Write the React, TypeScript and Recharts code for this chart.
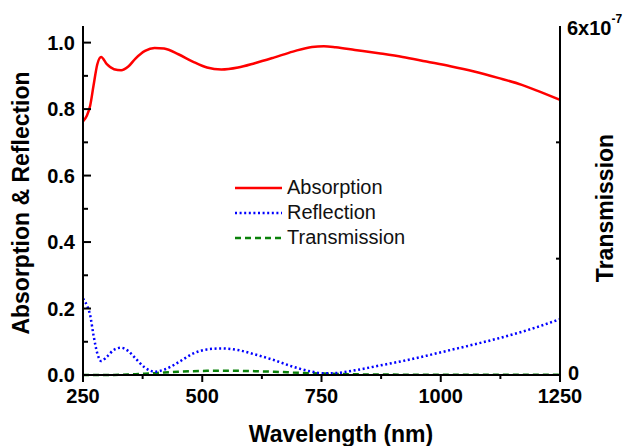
import { LineChart, Line, XAxis, YAxis, Legend, Label } from 'recharts'

const WAVELENGTH = [250, 258, 265, 272, 280, 288, 300, 315, 330, 345, 360, 380, 400, 420, 450, 480, 510, 540, 575, 610, 650, 690, 730, 755, 780, 820, 870, 920, 970, 1020, 1070, 1120, 1170, 1210, 1250]
const ABSORPTION = [0.763, 0.78, 0.81, 0.87, 0.935, 0.957, 0.935, 0.92, 0.917, 0.928, 0.952, 0.975, 0.984, 0.982, 0.965, 0.943, 0.925, 0.919, 0.925, 0.938, 0.955, 0.973, 0.987, 0.989, 0.986, 0.978, 0.968, 0.957, 0.943, 0.929, 0.913, 0.894, 0.873, 0.851, 0.828]
const REFLECTION = [0.23, 0.21, 0.18, 0.12, 0.065, 0.042, 0.055, 0.076, 0.082, 0.072, 0.05, 0.022, 0.01, 0.016, 0.038, 0.064, 0.077, 0.08, 0.075, 0.062, 0.045, 0.025, 0.01, 0.005, 0.006, 0.014, 0.028, 0.042, 0.058, 0.075, 0.092, 0.11, 0.13, 0.148, 0.168]
const TRANSMISSION = [0, 0, 0, 0, 0, 0, 0.1e-9, 0.2e-9, 0.4e-9, 0.8e-9, 1.3e-9, 2.2e-9, 3.2e-9, 4.2e-9, 5.5e-9, 6.6e-9, 7.2e-9, 7.4e-9, 7.2e-9, 6.6e-9, 5.6e-9, 4.3e-9, 3.0e-9, 2.4e-9, 1.8e-9, 1.2e-9, 0.8e-9, 0.6e-9, 0.5e-9, 0.4e-9, 0.35e-9, 0.3e-9, 0.3e-9, 0.3e-9, 0.3e-9]

const X_TICKS = [250, 375, 500, 625, 750, 875, 1000, 1125, 1250]
const LEFT_TICKS = [0, 0.1, 0.2, 0.3, 0.4, 0.5, 0.6, 0.7, 0.8, 0.9, 1.0]
const RIGHT_TICKS = [0, 2e-7, 4e-7, 6e-7]

const FONT = '"Liberation Sans", Arial, sans-serif'

const data = WAVELENGTH.map((w, i) => ({
  w,
  absorption: ABSORPTION[i],
  reflection: REFLECTION[i],
  transmission: TRANSMISSION[i],
}))

const legendItems = [
  { name: 'Absorption', color: '#ff0000', dash: undefined },
  { name: 'Reflection', color: '#0000ff', dash: '2 2.6' },
  { name: 'Transmission', color: '#0a820a', dash: '6 4' },
]

function XTick({ x, y, payload }: any) {
  const major = payload.value % 250 === 0
  return (
    <g>
      <line x1={x} x2={x} y1={y} y2={y + (major ? 7 : 4)} stroke="#000" strokeWidth={2} />
      {major && (
        <text x={x} y={y + 21} textAnchor="middle" dominantBaseline="central" fontFamily={FONT} fontWeight="bold" fontSize={20} fill="#000">
          {payload.value}
        </text>
      )}
    </g>
  )
}

function LeftTick({ x, y, payload }: any) {
  const major = Math.round(payload.value * 10) % 2 === 0
  return (
    <g>
      <line x1={x} x2={x + (major ? 8 : 5)} y1={y} y2={y} stroke="#000" strokeWidth={2} />
      {major && (
        <text x={x - 8} y={y} textAnchor="end" dominantBaseline="central" fontFamily={FONT} fontWeight="bold" fontSize={20} fill="#000">
          {payload.value.toFixed(1)}
        </text>
      )}
    </g>
  )
}

function RightTick({ x, y, payload }: any) {
  const v = payload.value
  if (v === 0) {
    return (
      <text x={x + 8} y={y - 2} dominantBaseline="central" fontFamily={FONT} fontWeight="bold" fontSize={20} fill="#000">0</text>
    )
  }
  if (v > 5e-7) {
    return (
      <text x={x + 7} y={y + 2} dominantBaseline="central" fontFamily={FONT} fontWeight="bold" fontSize={20} fill="#000">
        6x10<tspan fontSize={12} dy={-9}>-7</tspan>
      </text>
    )
  }
  return <line x1={x} x2={x - 4} y1={y} y2={y} stroke="#000" strokeWidth={2} />
}

function LegendBox() {
  return (
    <div style={{ fontFamily: FONT, fontSize: 20, color: '#111' }}>
      {legendItems.map(item => (
        <div key={item.name} style={{ display: 'flex', alignItems: 'center', height: 25 }}>
          <svg width={52} height={10}>
            <line x1={0} x2={47} y1={5} y2={5} stroke={item.color} strokeWidth={2.5} strokeDasharray={item.dash} />
          </svg>
          <span>{item.name}</span>
        </div>
      ))}
    </div>
  )
}

export default function App() {
  return (
    <div style={{ position: 'absolute', left: 0, top: 0, width: 625, height: 446, background: '#fff' }}>
      <LineChart width={625} height={446} data={data} margin={{ top: 26, right: 0, bottom: 0, left: 0 }}>
        <XAxis dataKey="w" type="number" domain={[250, 1250]} ticks={X_TICKS} height={71}
          tick={<XTick />} tickLine={false} tickSize={0} tickMargin={0}
          axisLine={{ stroke: '#000', strokeWidth: 2 }} allowDataOverflow>
          <Label content={() => (
            <text x={341} y={442} textAnchor="middle" fontFamily={FONT} fontWeight="bold" fontSize={23} fill="#000">
              Wavelength (nm)
            </text>
          )} />
        </XAxis>
        <XAxis xAxisId="top" dataKey="w" type="number" domain={[250, 1250]} orientation="top" height={0}
          tick={false} tickLine={false} axisLine={{ stroke: '#000', strokeWidth: 2 }} />
        <YAxis yAxisId="left" type="number" domain={[0, 1.05]} ticks={LEFT_TICKS} width={83}
          tick={<LeftTick />} tickLine={false} tickSize={0} tickMargin={0}
          axisLine={{ stroke: '#000', strokeWidth: 2 }} interval={0}>
          <Label content={() => (
            <text x={21} y={203} transform="rotate(-90 21 203)" textAnchor="middle" dominantBaseline="central" fontFamily={FONT} fontWeight="bold" fontSize={23} fill="#000">
              Absorption &amp; Reflection
            </text>
          )} />
        </YAxis>
        <YAxis yAxisId="right" orientation="right" type="number" domain={[0, 6e-7]} ticks={RIGHT_TICKS} width={65}
          tick={<RightTick />} tickLine={false} tickSize={0} tickMargin={0}
          axisLine={{ stroke: '#000', strokeWidth: 2 }} interval={0}>
          <Label content={() => (
            <text x={605} y={208} transform="rotate(-90 605 208)" textAnchor="middle" dominantBaseline="central" fontFamily={FONT} fontWeight="bold" fontSize={23} fill="#000">
              Transmission
            </text>
          )} />
        </YAxis>
        <Legend layout="vertical" align="center" verticalAlign="middle" content={<LegendBox />}
          wrapperStyle={{ left: 235, top: 175, width: 200, height: 80 }} />
        <Line yAxisId="right" dataKey="transmission" type="monotone" stroke="#0a820a" strokeWidth={2.5} strokeDasharray="6 4" dot={false} isAnimationActive={false} />
        <Line yAxisId="left" dataKey="reflection" type="monotone" stroke="#0000ff" strokeWidth={2.5} strokeDasharray="2 2.6" dot={false} isAnimationActive={false} />
        <Line yAxisId="left" dataKey="absorption" type="monotone" stroke="#ff0000" strokeWidth={2.5} dot={false} isAnimationActive={false} />
      </LineChart>
    </div>
  )
}
